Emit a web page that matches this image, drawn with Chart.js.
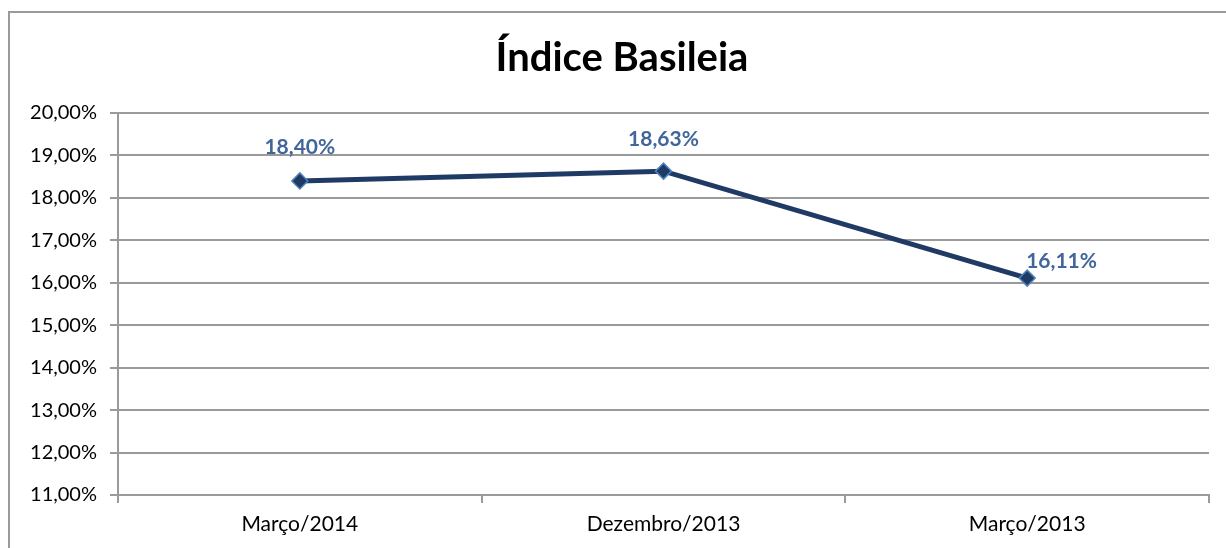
<!DOCTYPE html>
<html>
<head>
<meta charset="utf-8">
<script src="https://cdn.jsdelivr.net/npm/chart.js@4/dist/chart.umd.min.js"></script>
<style>
  html, body { margin: 0; padding: 0; background: #fff; }
  #wrap { position: relative; width: 1226px; height: 548px; overflow: hidden; }
  #frame { position: absolute; left: 8px; top: 11px; width: 1400px; height: 700px; border: 2px solid #9a9a9a; box-sizing: border-box; }
  canvas { position: absolute; left: 0; top: 0; }
</style>
</head>
<body>
<div id="wrap">
  <div id="frame"></div>
  <canvas id="basileia" width="1226" height="548"></canvas>
</div>
<script>
const categories = ["Março/2014", "Dezembro/2013", "Março/2013"];
const indice = [18.40, 18.63, 16.11];
const yTicks = [11, 12, 13, 14, 15, 16, 17, 18, 19, 20];
const chartTitle = "Índice Basileia";

const fmt = v => v.toFixed(2).replace(".", ",") + "%";

// draws the value labels next to each point (no datalabels plugin available)
const pointLabels = {
  id: "pointLabels",
  afterDatasetsDraw(chart, args, opts) {
    const ctx = chart.ctx;
    const meta = chart.getDatasetMeta(0);
    ctx.save();
    ctx.font = "bold 21px Lato";
    ctx.fillStyle = "#41669b";
    ctx.textBaseline = "middle";
    meta.data.forEach((pt, i) => {
      const off = opts.offsets[i];
      ctx.textAlign = off.align;
      ctx.fillText(fmt(indice[i]), pt.x + off.dx, pt.y + off.dy);
    });
    ctx.restore();
  }
};

// title sits a bit right of the canvas centre in the original
const titleText = {
  id: "titleText",
  afterDraw(chart, args, opts) {
    const ctx = chart.ctx;
    ctx.save();
    ctx.font = "bold 40px Lato";
    ctx.fillStyle = "#000";
    ctx.textAlign = "center";
    ctx.textBaseline = "middle";
    ctx.fillText(opts.text, opts.x, opts.y);
    ctx.restore();
  }
};

new Chart(document.getElementById("basileia"), {
  type: "line",
  data: {
    labels: categories,
    datasets: [{
      data: indice,
      borderColor: "#1f3a64",
      borderWidth: 5,
      pointStyle: "rectRot",
      pointRadius: 8,
      pointBackgroundColor: "#1f3a64",
      pointBorderColor: "#4f81bd",
      pointBorderWidth: 1.5,
      tension: 0
    }]
  },
  options: {
    responsive: false,
    animation: false,
    layout: { padding: { left: 0, right: 17, top: 113, bottom: 0 } },
    plugins: {
      legend: { display: false },
      tooltip: { enabled: false },
      title: { display: false },
      titleText: { text: chartTitle, x: 622, y: 58 },
      pointLabels: {
        offsets: [
          { dx: 0, dy: -34, align: "center" },
          { dx: 0, dy: -32, align: "center" },
          { dx: -1, dy: -17, align: "left" }
        ]
      }
    },
    scales: {
      x: {
        offset: true,
        grid: { offset: true, drawOnChartArea: false, drawTicks: true, tickLength: 8, color: "#9a9a9a", lineWidth: 2 },
        border: { color: "#9a9a9a", width: 2 },
        ticks: { color: "#000", font: { family: "Lato", size: 21 }, padding: 9 },
        afterFit(scale) { scale.height = 53; }
      },
      y: {
        min: 11,
        max: 20,
        afterBuildTicks(scale) { scale.ticks = yTicks.map(v => ({ value: v })); },
        grid: { color: "#9a9a9a", lineWidth: 2, tickLength: 8 },
        border: { color: "#9a9a9a", width: 2 },
        ticks: { color: "#000", font: { family: "Lato", size: 20 }, padding: 13, callback: v => fmt(v) },
        afterFit(scale) { scale.width = 118; }
      }
    }
  },
  plugins: [pointLabels, titleText]
});
</script>
</body>
</html>
